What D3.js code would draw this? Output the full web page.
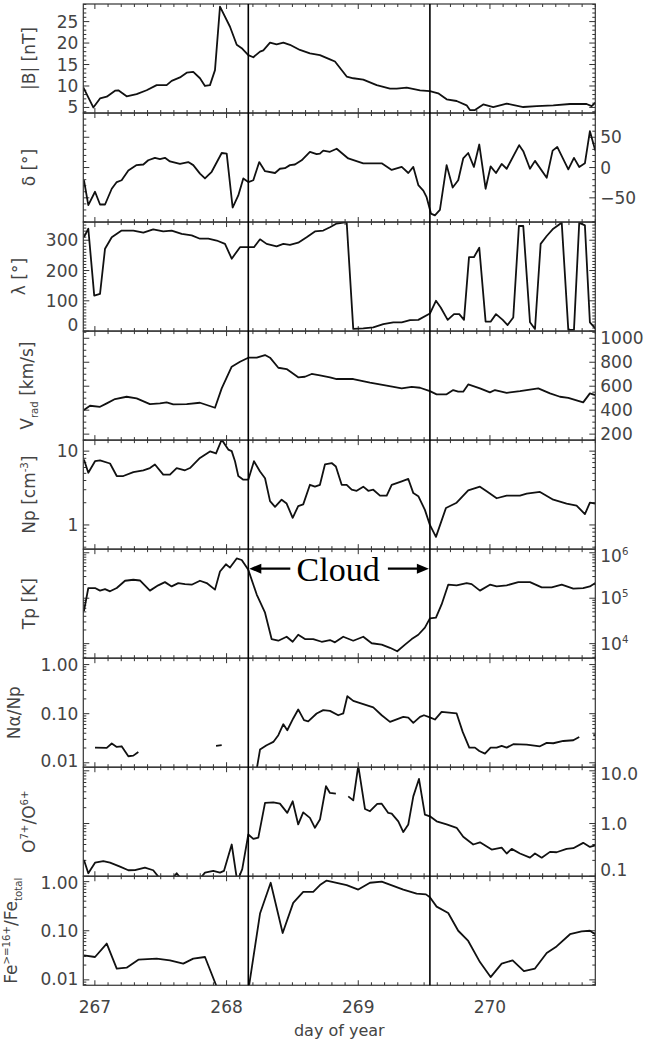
<!DOCTYPE html>
<html>
<head>
<meta charset="utf-8">
<script src="https://cdn.jsdelivr.net/npm/d3@7"></script>
<style>
  html, body { margin: 0; background: #fff; }
  svg { display: block; }
  text { font-family: "DejaVu Sans", sans-serif; }
  text.serif { font-family: "Liberation Serif", "Times New Roman", serif; }
</style>
</head>
<body>
<svg id="chart" width="645" height="1043"></svg>
<script>
// ---------- data (day of year, value) ----------
const dayTicks = [267, 268, 269, 270];
const cloudStart = 268.165;
const cloudEnd = 269.544;

const bMag = [[266.912,9.7],[266.988,5.0],[267.039,7.1],[267.090,7.5],[267.153,8.9],[267.178,9.0],[267.241,7.6],[267.317,8.1],[267.393,9.0],[267.469,10.2],[267.545,10.2],[267.583,11.2],[267.646,12.0],[267.697,13.1],[267.747,13.3],[267.798,11.8],[267.836,10.0],[267.874,10.2],[267.912,13.7],[267.950,28.5],[268.026,23.8],[268.077,19.6],[268.115,18.8],[268.165,17.2],[268.203,16.7],[268.254,18.0],[268.279,18.3],[268.330,20.1],[268.380,19.7],[268.431,20.1],[268.481,19.6],[268.557,18.4],[268.633,17.6],[268.709,17.2],[268.785,16.2],[268.823,15.7],[268.912,12.2],[268.962,11.8],[269.038,11.5],[269.140,10.2],[269.241,9.4],[269.292,9.4],[269.368,9.6],[269.469,9.0],[269.544,8.8],[269.607,8.3],[269.671,6.9],[269.747,6.5],[269.823,5.5],[269.848,4.4],[269.886,4.4],[269.949,5.7],[270.025,5.1],[270.127,5.9],[270.253,5.1],[270.355,5.3],[270.481,5.5],[270.608,5.8],[270.734,5.8],[270.772,5.3],[270.800,6.1]];

const delta = [[266.917,-21],[266.950,-62],[267.001,-40],[267.039,-61],[267.077,-61],[267.128,-35],[267.166,-24],[267.203,-21],[267.254,-5],[267.317,4],[267.368,5],[267.405,12],[267.456,16],[267.494,14],[267.532,16],[267.570,10],[267.646,6],[267.709,9],[267.747,4],[267.798,-10],[267.836,-18],[267.887,-7],[267.963,24],[268.001,23],[268.046,-66],[268.089,-46],[268.127,-18],[268.165,-24],[268.203,-21],[268.248,9],[268.292,-6],[268.368,-9],[268.405,-2],[268.443,-1],[268.481,4],[268.519,5],[268.570,12],[268.633,26],[268.684,22],[268.709,23],[268.734,28],[268.785,26],[268.836,31],[268.924,15],[269.038,7],[269.114,7],[269.178,7],[269.254,-4],[269.330,1],[269.380,-9],[269.418,1],[269.456,-29],[269.494,-38],[269.519,-49],[269.552,-76],[269.582,-79],[269.620,-70],[269.671,4],[269.717,-33],[269.759,-21],[269.797,15],[269.835,24],[269.878,1],[269.919,38],[269.967,-35],[270.005,2],[270.046,-9],[270.089,6],[270.127,-2],[270.222,37],[270.253,27],[270.304,-2],[270.342,11],[270.431,-17],[270.476,28],[270.511,34],[270.595,-3],[270.638,16],[270.678,1],[270.721,7],[270.759,60],[270.800,28]];

const lambda = [[266.917,310],[266.950,338],[266.995,117],[267.039,123],[267.077,272],[267.128,310],[267.203,332],[267.292,332],[267.368,325],[267.443,336],[267.519,329],[267.583,332],[267.659,321],[267.735,316],[267.798,305],[267.861,305],[267.925,299],[267.988,288],[268.039,239],[268.102,277],[268.165,277],[268.208,277],[268.254,303],[268.304,288],[268.380,280],[268.431,288],[268.481,285],[268.544,292],[268.608,310],[268.671,329],[268.734,332],[268.785,343],[268.836,355],[268.912,360],[268.962,7],[269.038,9],[269.114,12],[269.190,23],[269.266,29],[269.330,29],[269.393,36],[269.456,37],[269.544,58],[269.590,100],[269.626,78],[269.679,37],[269.727,56],[269.767,56],[269.803,37],[269.841,244],[269.878,244],[269.919,275],[269.967,31],[270.005,31],[270.046,56],[270.097,37],[270.134,20],[270.177,45],[270.220,347],[270.253,347],[270.304,29],[270.342,7],[270.385,288],[270.431,314],[270.481,338],[270.545,358],[270.595,4],[270.638,4],[270.678,358],[270.721,349],[270.759,29],[270.800,9]];

const vRad = [[266.917,401],[266.963,437],[267.039,428],[267.090,457],[267.153,493],[267.241,512],[267.317,498],[267.418,451],[267.494,457],[267.545,465],[267.595,448],[267.697,451],[267.798,462],[267.912,420],[267.963,582],[268.039,763],[268.102,804],[268.165,838],[268.229,838],[268.292,860],[268.330,838],[268.393,754],[268.456,743],[268.544,674],[268.595,679],[268.646,702],[268.709,690],[268.785,674],[268.836,660],[268.962,660],[269.089,629],[269.216,604],[269.330,582],[269.406,595],[269.469,587],[269.544,559],[269.595,532],[269.671,532],[269.721,568],[269.759,554],[269.797,554],[269.835,615],[269.924,582],[270.000,549],[270.038,568],[270.127,545],[270.228,559],[270.367,582],[270.456,540],[270.532,512],[270.595,503],[270.708,465],[270.759,540],[270.800,526]];

const nP = [[266.917,7.7],[266.950,5.1],[267.001,7.3],[267.039,7.5],[267.115,6.8],[267.166,4.6],[267.216,4.6],[267.292,5.2],[267.368,5.5],[267.418,5.9],[267.456,6.6],[267.519,4.8],[267.570,4.8],[267.621,5.9],[267.684,5.5],[267.722,5.9],[267.798,8.1],[267.874,9.9],[267.920,9.3],[267.963,14.3],[268.013,10.5],[268.039,10.0],[268.064,7.3],[268.089,4.6],[268.127,4.1],[268.165,4.1],[268.208,7.3],[268.254,5.3],[268.292,4.3],[268.330,2.1],[268.368,1.76],[268.418,2.2],[268.456,1.95],[268.502,1.25],[268.544,1.8],[268.582,1.9],[268.633,3.5],[268.671,3.3],[268.709,3.5],[268.747,6.6],[268.798,6.9],[268.830,6.2],[268.874,3.5],[268.912,3.5],[268.950,3.0],[268.988,2.9],[269.038,3.3],[269.076,2.9],[269.114,3.0],[269.165,2.5],[269.216,2.5],[269.254,3.5],[269.330,3.9],[269.380,4.2],[269.418,2.7],[269.456,2.45],[269.506,1.6],[269.544,1.0],[269.590,0.69],[269.666,1.7],[269.747,2.0],[269.835,2.95],[269.924,3.3],[269.975,2.86],[270.051,2.3],[270.127,2.5],[270.228,2.5],[270.279,2.66],[270.380,2.8],[270.481,2.2],[270.582,1.95],[270.658,1.83],[270.721,1.4],[270.759,2.0],[270.800,1.95]];

const tP = [[266.917,52100],[266.950,167500],[267.001,167500],[267.039,146900],[267.077,158500],[267.115,141900],[267.166,167500],[267.229,242100],[267.292,254700],[267.342,245500],[267.418,146900],[267.481,191900],[267.532,225900],[267.583,182000],[267.633,215300],[267.684,204200],[267.735,198200],[267.798,242100],[267.849,215300],[267.912,154500],[267.950,386400],[267.995,557200],[268.026,472100],[268.077,751600],[268.115,693400],[268.165,420700],[268.229,120200],[268.292,47900],[268.342,12600],[268.393,11600],[268.456,14200],[268.502,11000],[268.544,15700],[268.595,12600],[268.658,12600],[268.722,11000],[268.785,12000],[268.823,10700],[268.886,14200],[268.962,11600],[269.038,14200],[269.102,10200],[269.178,9500],[269.241,8100],[269.296,6800],[269.355,9500],[269.406,12600],[269.456,15700],[269.506,22600],[269.544,36100],[269.590,37300],[269.633,72900],[269.683,198200],[269.747,191900],[269.823,215300],[269.861,204200],[269.924,146900],[270.000,198200],[270.051,182000],[270.127,191900],[270.215,225900],[270.304,225900],[270.393,173400],[270.469,173400],[270.545,198200],[270.633,162200],[270.708,167500],[270.759,182000],[270.800,215300]];

// null marks a data gap
const alphaRatio = [[267.001,0.0204],[267.090,0.0201],[267.128,0.0247],[267.166,0.021],[267.203,0.0217],[267.254,0.0136],[267.292,0.014],[267.330,0.0166],[267.600,null],[267.920,0.0221],[267.963,0.0228],[268.100,null],[268.223,0.006],[268.254,0.0186],[268.304,0.0228],[268.355,0.0266],[268.393,0.0364],[268.431,0.061],[268.461,0.046],[268.506,0.08],[268.544,0.122],[268.588,0.074],[268.620,0.070],[268.684,0.101],[268.734,0.118],[268.785,0.114],[268.848,0.093],[268.886,0.101],[268.917,0.227],[268.962,0.182],[269.038,0.156],[269.114,0.134],[269.178,0.093],[269.241,0.068],[269.342,0.086],[269.380,0.083],[269.418,0.065],[269.469,0.086],[269.499,0.093],[269.544,0.084],[269.582,0.076],[269.633,0.109],[269.747,0.101],[269.793,0.0426],[269.843,0.0204],[269.886,0.0204],[269.919,0.0174],[269.962,0.0154],[270.005,0.0204],[270.051,0.0204],[270.089,0.022],[270.127,0.0204],[270.177,0.0239],[270.279,0.0235],[270.380,0.0217],[270.431,0.0254],[270.481,0.025],[270.557,0.0278],[270.633,0.0288],[270.678,0.0336],[270.730,null],[270.785,0.0364],[270.800,0.0364]];

const oxygenRatio = [[266.917,0.203],[266.950,0.114],[267.001,0.181],[267.064,0.194],[267.115,0.181],[267.191,0.152],[267.254,0.13],[267.304,0.131],[267.380,0.146],[267.443,0.13],[267.494,0.09],[267.570,0.08],[267.621,0.114],[267.671,0.08],[267.798,0.09],[267.836,0.117],[267.899,0.126],[267.950,0.117],[267.980,0.126],[268.039,0.40],[268.081,0.08],[268.119,0.136],[268.165,0.62],[268.203,0.51],[268.241,0.54],[268.292,2.46],[268.355,2.52],[268.405,2.38],[268.461,1.59],[268.502,2.64],[268.544,0.96],[268.582,1.63],[268.633,1.28],[268.671,0.83],[268.709,1.19],[268.755,5.1],[268.785,3.8],[268.830,3.7],[268.880,null],[268.924,3.27],[268.962,2.75],[269.000,12.5],[269.051,1.89],[269.089,1.71],[269.144,2.35],[269.178,2.38],[269.228,1.59],[269.254,1.54],[269.304,1.1],[269.342,0.69],[269.380,0.96],[269.418,3.27],[269.461,7.0],[269.506,1.48],[269.544,1.37],[269.595,1.1],[269.671,0.96],[269.747,0.83],[269.797,0.56],[269.873,0.40],[269.924,0.44],[270.013,0.32],[270.089,0.35],[270.127,0.27],[270.165,0.33],[270.228,0.27],[270.304,0.225],[270.342,0.27],[270.393,0.225],[270.456,0.29],[270.506,0.285],[270.582,0.33],[270.633,0.34],[270.708,0.43],[270.759,0.36],[270.800,0.385]];

const ironRatio = [[266.917,0.0316],[267.001,0.0292],[267.090,0.0548],[267.166,0.017],[267.241,0.0177],[267.330,0.0258],[267.469,0.027],[267.570,0.025],[267.671,0.0214],[267.747,0.027],[267.836,0.0292],[267.937,0.006],[268.165,0.006],[268.254,0.224],[268.335,0.95],[268.426,0.09],[268.506,0.37],[268.582,0.62],[268.658,0.62],[268.709,0.85],[268.760,1.05],[268.912,0.85],[269.000,0.69],[269.089,0.95],[269.178,1.0],[269.342,0.69],[269.443,0.57],[269.514,0.55],[269.544,0.48],[269.595,0.31],[269.683,0.23],[269.759,0.1],[269.835,0.062],[269.924,0.023],[270.005,0.0114],[270.089,0.0214],[270.172,0.025],[270.258,0.0151],[270.342,0.017],[270.431,0.0352],[270.506,0.048],[270.608,0.085],[270.696,0.097],[270.759,0.10],[270.800,0.085]];

// y tick values per panel
const bTicks = [5, 10, 15, 20, 25];
const deltaTicks = [-50, 0, 50];
const lambdaTicks = [0, 100, 200, 300];
const vTicks = [200, 400, 600, 800, 1000];
const npTicks = [1, 10];
const tpTicks = [1e4, 1e5, 1e6];
const alphaTicks = [0.01, 0.1, 1];
const oxyTicks = [0.1, 1, 10];
const ironTicks = [0.01, 0.1, 1];

// ---------- layout ----------
const svg = d3.select('#chart');
const left = 83.3, right = 595.3, top0 = 4, panelH = 109.03;
const ink = '#444';
const fs = 17;

const x = d3.scaleLinear().domain([266.912, 270.800]).range([left, right]);

function logMinor(lo, hi) {
  const out = [];
  for (let e = Math.floor(Math.log10(lo)) - 1; e <= Math.ceil(Math.log10(hi)); e++) {
    for (let m = 1; m <= 9; m++) {
      const v = m * Math.pow(10, e);
      if (v >= lo && v <= hi) out.push({v, major: m === 1});
    }
  }
  return out;
}
function linMinor(lo, hi, step, majorStep) {
  const out = [];
  const s = Math.ceil(lo / step) * step;
  for (let v = s; v <= hi + 1e-9; v += step) {
    const r = Math.round(v / step) * step;
    out.push({v: r, major: Math.abs(r / majorStep - Math.round(r / majorStep)) < 1e-6});
  }
  return out;
}
const sup = t => [t, 'sup'];
const sub = t => [t, 'sub'];
const fmtPow = v => ['10', sup(String(Math.round(Math.log10(v))))];

const panels = [
  {data: bMag, log: false, domain: [3.7, 29.1], ticks: bTicks, fmt: v => [String(v)],
   minor: linMinor(3.7, 29.1, 1, 5), side: 'left', title: ['|B| [nT]'], tx: 35},
  {data: delta, log: false, domain: [-90, 90], ticks: deltaTicks, fmt: v => [v < 0 ? '\u2212' + Math.abs(v) : String(v)],
   minor: linMinor(-90, 90, 10, 50), side: 'right', title: ['\u03B4 [\u00B0]'], tx: 35},
  {data: lambda, log: false, domain: [0, 360], ticks: lambdaTicks, fmt: v => [String(v)],
   minor: linMinor(0, 360, 10, 100), side: 'left', title: ['\u03BB [\u00B0]'], tx: 25},
  {data: vRad, log: false, domain: [150, 1060], ticks: vTicks, fmt: v => [String(v)],
   minor: linMinor(150, 1060, 50, 200), side: 'right', title: ['V', sub('rad'), ' [km/s]'], tx: 33},
  {data: nP, log: true, domain: [0.47, 14.1], ticks: npTicks, fmt: v => [String(v)],
   minor: logMinor(0.47, 14.1), side: 'left', title: ['Np [cm', sup('-3'), ']'], tx: 35},
  {data: tP, log: true, domain: [4786, 1.202e6], ticks: tpTicks, fmt: fmtPow,
   minor: logMinor(4786, 1.202e6), side: 'right', title: ['Tp [K]'], tx: 35},
  {data: alphaRatio, log: true, domain: [0.00813, 1.349], ticks: alphaTicks, fmt: v => [v.toFixed(2)],
   minor: logMinor(0.00813, 1.349), side: 'left', title: ['N\u03B1/Np'], tx: 20},
  {data: oxygenRatio, log: true, domain: [0.1, 11.7], ticks: oxyTicks, fmt: v => [v.toFixed(1)],
   minor: logMinor(0.1, 11.7), side: 'right', title: ['O', sup('7+'), '/O', sup('6+')], tx: 35},
  {data: ironRatio, log: true, domain: [0.00776, 1.288], ticks: ironTicks, fmt: v => [v.toFixed(2)],
   minor: logMinor(0.00776, 1.288), side: 'left', title: ['Fe', sup('>=16+'), '/Fe', sub('total')], tx: 17}
];

function rich(textSel, parts, size) {
  let cur = 0;
  parts.forEach(p => {
    const [t, k] = Array.isArray(p) ? p : [p, null];
    const off = k === 'sup' ? -0.42 * size : k === 'sub' ? 0.28 * size : 0;
    const ts = textSel.append('tspan').text(t).attr('dy', off - cur);
    if (k) ts.attr('font-size', size * 0.6);
    cur = off;
  });
}

const defs = svg.append('defs');
const minorDays = d3.range(2669, 2709).map(d => d / 10).filter(d => d >= 266.912 && d <= 270.8);

panels.forEach((p, i) => {
  const y0 = top0 + i * panelH, y1 = y0 + panelH;
  const y = (p.log ? d3.scaleLog() : d3.scaleLinear()).domain(p.domain).range([y1, y0]);
  const g = svg.append('g');

  defs.append('clipPath').attr('id', 'clip' + i)
    .append('rect').attr('x', left).attr('y', y0).attr('width', right - left).attr('height', panelH);

  // x ticks, inward, on top and bottom edges
  minorDays.forEach(d => {
    const major = Math.abs(d - Math.round(d)) < 1e-6;
    const L = major ? 5 : 3;
    const xx = x(d);
    g.append('line').attr('x1', xx).attr('x2', xx).attr('y1', y1).attr('y2', y1 - L)
      .attr('stroke', '#333').attr('stroke-width', 1);
    g.append('line').attr('x1', xx).attr('x2', xx).attr('y1', y0).attr('y2', y0 + L)
      .attr('stroke', '#333').attr('stroke-width', 1);
  });

  // y ticks, inward, on both sides
  p.minor.forEach(t => {
    const yy = y(t.v);
    if (yy < y0 - 0.5 || yy > y1 + 0.5) return;
    const L = t.major ? 6 : 3;
    g.append('line').attr('x1', left).attr('x2', left + L).attr('y1', yy).attr('y2', yy)
      .attr('stroke', '#333').attr('stroke-width', 1);
    g.append('line').attr('x1', right).attr('x2', right - L).attr('y1', yy).attr('y2', yy)
      .attr('stroke', '#333').attr('stroke-width', 1);
  });

  // y tick labels
  p.ticks.forEach(v => {
    let yy = y(v);
    yy = Math.max(y0 + 7, Math.min(y1 - 6, yy));
    const t = g.append('text')
      .attr('x', p.side === 'left' ? left - 5 : right + 5)
      .attr('y', yy + fs * 0.36)
      .attr('text-anchor', p.side === 'left' ? 'end' : 'start')
      .attr('font-size', fs).attr('fill', ink);
    rich(t, p.fmt(v), fs);
  });

  // axis title
  const tt = g.append('text')
    .attr('transform', `translate(${p.tx},${(y0 + y1) / 2}) rotate(-90)`)
    .attr('text-anchor', 'middle').attr('dy', fs * 0.36)
    .attr('font-size', fs).attr('fill', ink);
  rich(tt, p.title, fs);

  // data line
  const line = d3.line()
    .defined(d => d[1] != null)
    .x(d => x(d[0])).y(d => y(d[1]));
  g.append('path').datum(p.data)
    .attr('clip-path', `url(#clip${i})`)
    .attr('d', line)
    .attr('fill', 'none').attr('stroke', '#111').attr('stroke-width', 1.8)
    .attr('stroke-linejoin', 'round');

  // frame
  g.append('rect').attr('x', left).attr('y', y0).attr('width', right - left).attr('height', panelH)
    .attr('fill', 'none').attr('stroke', '#333').attr('stroke-width', 1.2);
});

const yTop = top0, yBot = top0 + panels.length * panelH;

// cloud boundaries
[cloudStart, cloudEnd].forEach(d => {
  svg.append('line').attr('x1', x(d)).attr('x2', x(d)).attr('y1', yTop).attr('y2', yBot)
    .attr('stroke', '#000').attr('stroke-width', 1.6);
});

// x tick labels
dayTicks.forEach(d => {
  svg.append('text').attr('x', x(d)).attr('y', 1013).attr('text-anchor', 'middle')
    .attr('font-size', fs).attr('fill', ink).text(d);
});
svg.append('text').attr('x', (left + right) / 2).attr('y', 1036).attr('text-anchor', 'middle')
  .attr('font-size', 16).attr('fill', ink).text('day of year');

// "Cloud" annotation in the Tp panel
const tpTop = top0 + 5 * panelH;
const ay = tpTop + 19.5;
const xa = x(cloudStart), xb = x(cloudEnd);
const ann = svg.append('g');
ann.append('text').attr('class', 'serif').attr('x', (xa + xb) / 2 - 1).attr('y', ay + 12)
  .attr('text-anchor', 'middle')
  .attr('font-size', 34).attr('fill', '#000').text('Cloud');
ann.append('line').attr('x1', xa + 8).attr('x2', xa + 42).attr('y1', ay).attr('y2', ay)
  .attr('stroke', '#000').attr('stroke-width', 2.2);
ann.append('path').attr('d', `M${xa + 1},${ay} L${xa + 13},${ay - 5} L${xa + 13},${ay + 5} Z`).attr('fill', '#000');
ann.append('line').attr('x1', xb - 42).attr('x2', xb - 8).attr('y1', ay).attr('y2', ay)
  .attr('stroke', '#000').attr('stroke-width', 2.2);
ann.append('path').attr('d', `M${xb - 1},${ay} L${xb - 13},${ay - 5} L${xb - 13},${ay + 5} Z`).attr('fill', '#000');
</script>
</body>
</html>
